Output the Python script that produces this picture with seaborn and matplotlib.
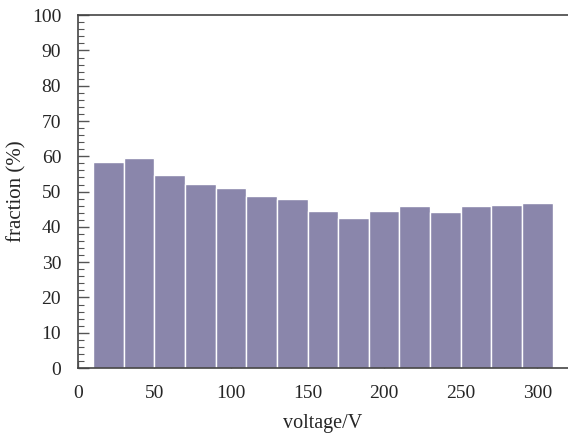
import matplotlib
matplotlib.use("Agg")
import matplotlib.pyplot as plt
from matplotlib.ticker import MultipleLocator
import seaborn as sns
import pandas as pd

voltage = [20, 40, 60, 80, 100, 120, 140, 160, 180, 200, 220, 240, 260, 280, 300]
fraction = [58.4, 59.5, 54.6, 52.2, 51.0, 48.7, 47.9, 44.6, 42.4, 44.4, 45.9, 44.3, 46.0, 46.2, 46.8]
x_ticks = [0, 50, 100, 150, 200, 250, 300]
y_ticks = [0, 10, 20, 30, 40, 50, 60, 70, 80, 90, 100]

df = pd.DataFrame({"voltage": voltage, "fraction": fraction})

sns.set_theme(style="white", rc={"xtick.direction": "in", "ytick.direction": "in",
                                 "xtick.bottom": True, "ytick.left": True})
plt.rcParams["font.family"] = ["Liberation Serif", "DejaVu Serif"]

fig = plt.figure(figsize=(5.68, 4.34), dpi=100)
ax = fig.add_axes([0.137, 0.152, 0.863, 0.813])

sns.histplot(data=df, x="voltage", weights="fraction", binwidth=20, binrange=(10, 310),
             color="#8a86ab", alpha=1, edgecolor="white", linewidth=1.0, ax=ax)

ax.set_xlim(0, 320)
ax.set_ylim(0, 100)
ax.set_xticks(x_ticks)
ax.set_yticks(y_ticks)
ax.yaxis.set_minor_locator(MultipleLocator(2))
ax.tick_params(axis="y", which="major", direction="in", length=8, width=1, color="#555555",
               labelsize=14, pad=12, left=True)
ax.tick_params(axis="y", which="minor", direction="in", length=4.5, width=0.8, color="#555555", left=True)
ax.tick_params(axis="x", which="major", direction="in", length=5, width=1, color="#888888",
               labelsize=14, pad=12, bottom=True)

for s in ["left", "bottom", "top"]:
    ax.spines[s].set_visible(True)
    ax.spines[s].set_color("#444444")
    ax.spines[s].set_linewidth(1.2)
ax.spines["right"].set_visible(False)

ax.set_xlabel("voltage/V", fontsize=14.5, labelpad=9)
ax.set_ylabel("fraction (%)", fontsize=15, labelpad=4)

fig.savefig("out.png", dpi=100)
